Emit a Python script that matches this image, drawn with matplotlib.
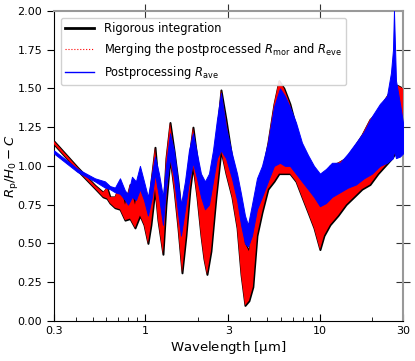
"""Transmission-radius spectrum: rigorous integration vs. postprocessed approximations."""

import matplotlib

matplotlib.use("Agg")
import matplotlib.pyplot as plt
from matplotlib.ticker import FixedLocator, NullFormatter

# Envelopes (lower / upper edge of the dense spectrum).
WL_RIG = [0.30, 0.41, 0.515, 0.573, 0.604, 0.628, 0.671, 0.717, 0.766, 0.818,
          0.874, 0.933, 0.984, 1.037, 1.079, 1.138, 1.183, 1.264, 1.315, 1.387,
          1.462, 1.541, 1.625, 1.712, 1.805, 1.878, 1.980, 2.087, 2.171, 2.259,
          2.381, 2.544, 2.717, 2.903, 3.14, 3.36, 3.54, 3.73, 3.93, 4.14,
          4.37, 4.67, 5.05, 5.47, 5.84, 6.24, 6.75, 7.31, 7.91, 8.57,
          9.27, 10.03, 10.58, 11.45, 12.73, 14.14, 15.72, 17.46, 19.41, 21.57,
          23.66, 25.95, 27.72, 30.0]
RIG_LO = [1.14, 0.97, 0.855, 0.80, 0.79, 0.76, 0.73, 0.72, 0.65, 0.66,
          0.60, 0.68, 0.62, 0.50, 0.62, 0.85, 0.65, 0.43, 0.75, 1.05,
          0.85, 0.60, 0.31, 0.55, 0.85, 1.00, 0.80, 0.55, 0.40, 0.30,
          0.45, 0.80, 1.10, 0.95, 0.80, 0.60, 0.30, 0.10, 0.13, 0.22,
          0.55, 0.70, 0.85, 0.90, 0.95, 0.95, 0.95, 0.90, 0.80, 0.70,
          0.60, 0.46, 0.55, 0.62, 0.68, 0.75, 0.80, 0.85, 0.88, 0.95,
          1.00, 1.05, 1.10, 1.15]
RIG_HI = [1.16, 0.99, 0.875, 0.83, 0.86, 0.80, 0.80, 0.89, 0.75, 0.88,
          0.75, 0.95, 0.85, 0.70, 0.90, 1.12, 0.90, 0.70, 1.05, 1.28,
          1.10, 0.90, 0.65, 0.85, 1.10, 1.25, 1.05, 0.85, 0.82, 0.80,
          0.88, 1.15, 1.49, 1.30, 1.05, 0.90, 0.70, 0.50, 0.45, 0.62,
          0.80, 0.95, 1.15, 1.40, 1.55, 1.50, 1.40, 1.25, 1.10, 1.02,
          0.95, 0.92, 0.92, 1.00, 1.02, 1.05, 1.12, 1.20, 1.30, 1.35,
          1.43, 1.50, 1.52, 1.50]

WL_AVE = [0.30, 0.41, 0.515, 0.588, 0.628, 0.671, 0.717, 0.766, 0.797, 0.840,
          0.885, 0.933, 0.984, 1.037, 1.093, 1.138, 1.199, 1.264, 1.315, 1.387,
          1.462, 1.541, 1.603, 1.690, 1.781, 1.878, 1.980, 2.087, 2.200, 2.320,
          2.446, 2.578, 2.717, 2.903, 3.14, 3.36, 3.54, 3.73, 3.88, 4.09,
          4.37, 4.67, 5.05, 5.47, 5.92, 6.32, 6.75, 7.31, 7.91, 8.57,
          9.27, 10.03, 10.86, 11.76, 13.07, 14.52, 16.14, 17.93, 19.93, 22.14,
          24.29, 25.60, 26.30, 26.64, 27.36, 28.84, 30.0]
AVE_LO = [1.08, 0.96, 0.90, 0.86, 0.85, 0.83, 0.82, 0.78, 0.75, 0.80,
          0.78, 0.85, 0.78, 0.68, 0.80, 0.95, 0.80, 0.62, 0.85, 1.05,
          0.92, 0.70, 0.55, 0.72, 0.90, 1.02, 0.92, 0.80, 0.72, 0.75,
          0.90, 1.05, 1.10, 1.05, 0.92, 0.78, 0.62, 0.50, 0.48, 0.55,
          0.72, 0.80, 0.90, 1.00, 1.02, 1.00, 1.00, 0.95, 0.90, 0.85,
          0.80, 0.74, 0.76, 0.80, 0.83, 0.86, 0.88, 0.92, 0.95, 1.00,
          1.02, 1.04, 1.05, 1.10, 1.05, 1.06, 1.08]
AVE_HI = [1.10, 0.98, 0.92, 0.90, 0.87, 0.86, 0.92, 0.84, 0.82, 0.93,
          0.90, 1.00, 0.90, 0.80, 0.95, 1.06, 0.95, 0.80, 1.00, 1.21,
          1.10, 0.90, 0.75, 0.90, 1.10, 1.21, 1.08, 0.95, 0.90, 0.95,
          1.10, 1.30, 1.47, 1.25, 1.08, 0.95, 0.82, 0.68, 0.62, 0.75,
          0.92, 1.00, 1.15, 1.38, 1.50, 1.45, 1.38, 1.28, 1.15, 1.07,
          1.00, 0.95, 0.98, 1.02, 1.02, 1.08, 1.15, 1.22, 1.32, 1.40,
          1.45, 1.60, 1.75, 2.00, 1.55, 1.40, 1.28]

X_TICKS = [0.3, 1, 3, 10, 30]
X_TICK_LABELS = ["0.3", "1", "3", "10", "30"]
X_MINOR = [0.4, 0.5, 0.6, 0.7, 0.8, 0.9, 2, 4, 5, 6, 7, 8, 9, 20]
Y_TICKS = [0.0, 0.25, 0.5, 0.75, 1.0, 1.25, 1.5, 1.75, 2.0]


def main() -> None:
    fig = plt.figure(figsize=(4.15, 3.61), dpi=100)
    ax = fig.add_axes([0.130, 0.111, 0.841, 0.859])

    # rigorous (black outline) with merged approximation (red) on top
    ax.fill_between(WL_RIG, RIG_LO, RIG_HI, facecolor="black",
                    edgecolor="black", linewidth=1.4, zorder=2)
    ax.fill_between(WL_RIG, RIG_LO, RIG_HI, facecolor="red",
                    edgecolor="none", linewidth=0, zorder=3)
    ax.fill_between(WL_AVE, AVE_LO, AVE_HI, facecolor="blue",
                    edgecolor="blue", linewidth=0.7, zorder=4)

    # legend proxies
    ax.plot([], [], color="black", lw=2, label="Rigorous integration")
    ax.plot([], [], color="red", lw=0.8, ls=":",
            label=r"Merging the postprocessed $R_{\rm mor}$ and $R_{\rm eve}$")
    ax.plot([], [], color="blue", lw=1,
            label=r"Postprocessing $R_{\rm ave}$")

    ax.set_xscale("log")
    ax.set_xlim(0.3, 30)
    ax.set_ylim(0, 2)
    ax.xaxis.set_major_locator(FixedLocator(X_TICKS))
    ax.set_xticklabels(X_TICK_LABELS)
    ax.xaxis.set_minor_locator(FixedLocator(X_MINOR))
    ax.xaxis.set_minor_formatter(NullFormatter())
    ax.set_yticks(Y_TICKS)
    ax.set_yticklabels([f"{v:.2f}" for v in Y_TICKS])

    ax.tick_params(axis="x", which="major", direction="in", length=5,
                   labelsize=8, top=False)
    ax.tick_params(axis="x", which="minor", direction="in", length=3, top=False)
    ax.tick_params(axis="y", direction="out", length=5, labelsize=8, right=False)

    # top / right frame in gray with crossing ticks
    for side in ("top", "right"):
        ax.spines[side].set_color("#999999")
        ax.spines[side].set_linewidth(1.5)
    sec_x = ax.secondary_xaxis("top")
    sec_x.set_xticks([1, 3, 10])
    sec_x.set_xticklabels([])
    sec_x.tick_params(direction="inout", length=10, color="#333333")
    sec_x.xaxis.set_minor_locator(FixedLocator([]))
    sec_x.spines["top"].set_visible(False)
    sec_y = ax.secondary_yaxis("right")
    sec_y.set_yticks(Y_TICKS[1:-1])
    sec_y.set_yticklabels([])
    sec_y.tick_params(direction="inout", length=10, color="#333333")
    sec_y.spines["right"].set_visible(False)

    ax.set_xlabel(r"Wavelength [$\mathrm{\mu}$m]", fontsize=9.5, labelpad=2)
    ax.set_ylabel(r"$R_{\rm p}/H_0 - C$", fontsize=9.5)
    ax.yaxis.set_label_coords(-0.098, 0.5)
    ax.legend(loc="upper left", fontsize=8.3, handlelength=2.5,
              framealpha=0.9, borderaxespad=0.6)

    fig.savefig("out.png", dpi=100)
    plt.close(fig)


if __name__ == "__main__":
    main()
